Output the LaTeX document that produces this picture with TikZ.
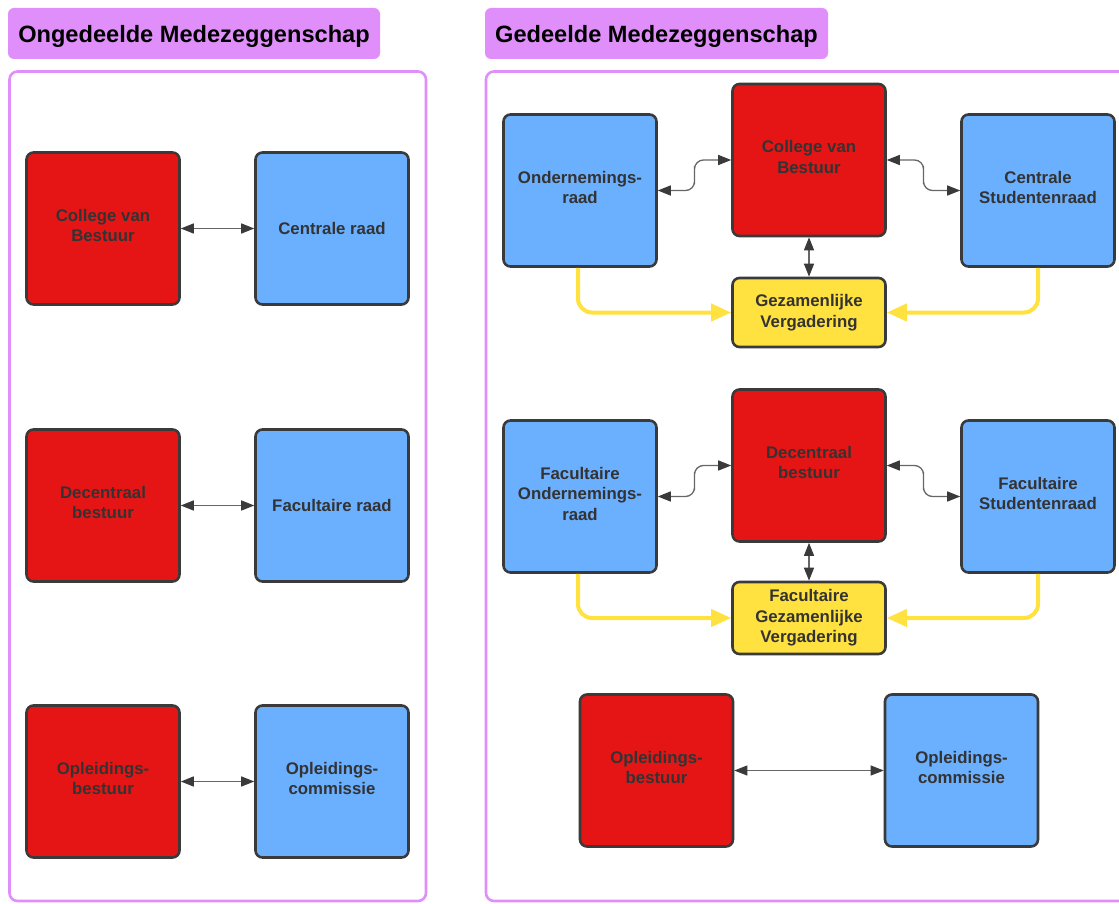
\documentclass[tikz,border=0pt]{standalone}
\usepackage{fontspec}
\setmainfont{Liberation Sans}
\usetikzlibrary{arrows.meta,calc}
\definecolor{cred}{HTML}{E61515}
\definecolor{cblue}{HTML}{6BAFFF}
\definecolor{cyel}{HTML}{FFE13F}
\definecolor{cpurp}{HTML}{E08FFA}
\definecolor{cbord}{HTML}{3A3A3A}
\definecolor{ctext}{HTML}{333333}
\definecolor{carrow}{HTML}{666666}
\tikzset{
  boxbase/.style={draw=cbord, line width=2.6pt, rounded corners=7pt, align=center, text=ctext,
    font=\fontsize{16.8}{20.5}\selectfont\bfseries, inner sep=2pt},
  plainbig/.style={boxbase, minimum width=153pt, minimum height=152pt},
  bigbox/.style={plainbig, execute at end node={\rule[-6pt]{0pt}{6pt}}},
  redbox/.style={bigbox, fill=cred},
  bluebox/.style={bigbox, fill=cblue},
  blueone/.style={plainbig, fill=cblue},
  yelbox/.style={boxbase, fill=cyel, minimum width=153pt},
  titlebox/.style={fill=cpurp, rounded corners=6pt, font=\fontsize{23.6}{27}\selectfont\bfseries,
    text=black, inner xsep=0pt, inner ysep=14pt, text height=21pt, text depth=2pt},
  panel/.style={draw=cpurp, line width=2.6pt, rounded corners=8pt},
  biarrow/.style={draw=carrow, line width=1.3pt, {Triangle[length=13pt,width=10pt,fill=cbord,color=cbord]}-{Triangle[length=13pt,width=10pt,fill=cbord,color=cbord]}},
  yelarrow/.style={draw=cyel, line width=4pt, rounded corners=14pt, -{Triangle[length=20pt,width=17pt]}},
}
\begin{document}
\begin{tikzpicture}[x=1pt,y=-1pt]
\useasboundingbox (0,0) rectangle (1119,904);
\clip (0,0) rectangle (1119,904);
% titles
\node[titlebox, minimum width=372pt] (t1) at (194,33.5) {Ongedeelde Medezeggenschap};
\node[titlebox, minimum width=343pt] (t2) at (656.5,33.5) {Gedeelde Medezeggenschap};
% panels
\draw[panel] (9.5,71.5) rectangle (426,901);
\draw[panel] (486,71.5) rectangle (1150,901);
% left column
\node[redbox] (lcvb) at (103,228.5) {College van\\Bestuur};
\node[blueone] (lcr) at (332,228.5) {Centrale raad};
\node[redbox] (ldb) at (103,505.5) {Decentraal\\bestuur};
\node[blueone] (lfr) at (332,505.5) {Facultaire raad};
\node[redbox] (lob) at (103,781.5) {Opleidings-\\bestuur};
\node[bluebox] (loc) at (332,781.5) {Opleidings-\\commissie};
\draw[biarrow] (lcvb.east) -- (lcr.west);
\draw[biarrow] (ldb.east) -- (lfr.west);
\draw[biarrow] (lob.east) -- (loc.west);
% right top group
\node[bluebox] (ror) at (580,190.5) {Ondernemings-\\raad};
\node[redbox] (rcvb) at (809,160) {College van\\Bestuur};
\node[bluebox] (rcsr) at (1038,190.5) {Centrale\\Studentenraad};
\node[yelbox, minimum height=69pt] (rgv) at (809,312.5) {Gezamenlijke\\Vergadering};
\draw[biarrow, rounded corners=9pt] (ror.east) -| ($(ror.east)!0.5!(rcvb.west)$) |- (rcvb.west);
\draw[biarrow, rounded corners=9pt] (rcvb.east) -| ($(rcvb.east)!0.5!(rcsr.west)$) |- (rcsr.west);
\draw[biarrow] (rcvb.south) -- (rgv.north);
\draw[yelarrow] ([xshift=-2pt]ror.south) |- (rgv.west);
\draw[yelarrow] (rcsr.south) |- (rgv.east);
% right middle group
\node[bluebox] (rfor) at (580,496.5) {Facultaire\\Ondernemings-\\raad};
\node[redbox] (rdb) at (809,465.5) {Decentraal\\bestuur};
\node[bluebox] (rfsr) at (1038,496.5) {Facultaire\\Studentenraad};
\node[yelbox, minimum height=72pt] (rfgv) at (809,618) {Facultaire\\Gezamenlijke\\Vergadering};
\draw[biarrow, rounded corners=9pt] (rfor.east) -| ($(rfor.east)!0.5!(rdb.west)$) |- (rdb.west);
\draw[biarrow, rounded corners=9pt] (rdb.east) -| ($(rdb.east)!0.5!(rfsr.west)$) |- (rfsr.west);
\draw[biarrow] (rdb.south) -- (rfgv.north);
\draw[yelarrow] ([xshift=-2pt]rfor.south) |- (rfgv.west);
\draw[yelarrow] (rfsr.south) |- (rfgv.east);
% right bottom
\node[redbox] (rob) at (656.5,770.5) {Opleidings-\\bestuur};
\node[bluebox] (roc) at (961.5,770.5) {Opleidings-\\commissie};
\draw[biarrow, line width=0.9pt] (rob.east) -- (roc.west);
\end{tikzpicture}
\end{document}
